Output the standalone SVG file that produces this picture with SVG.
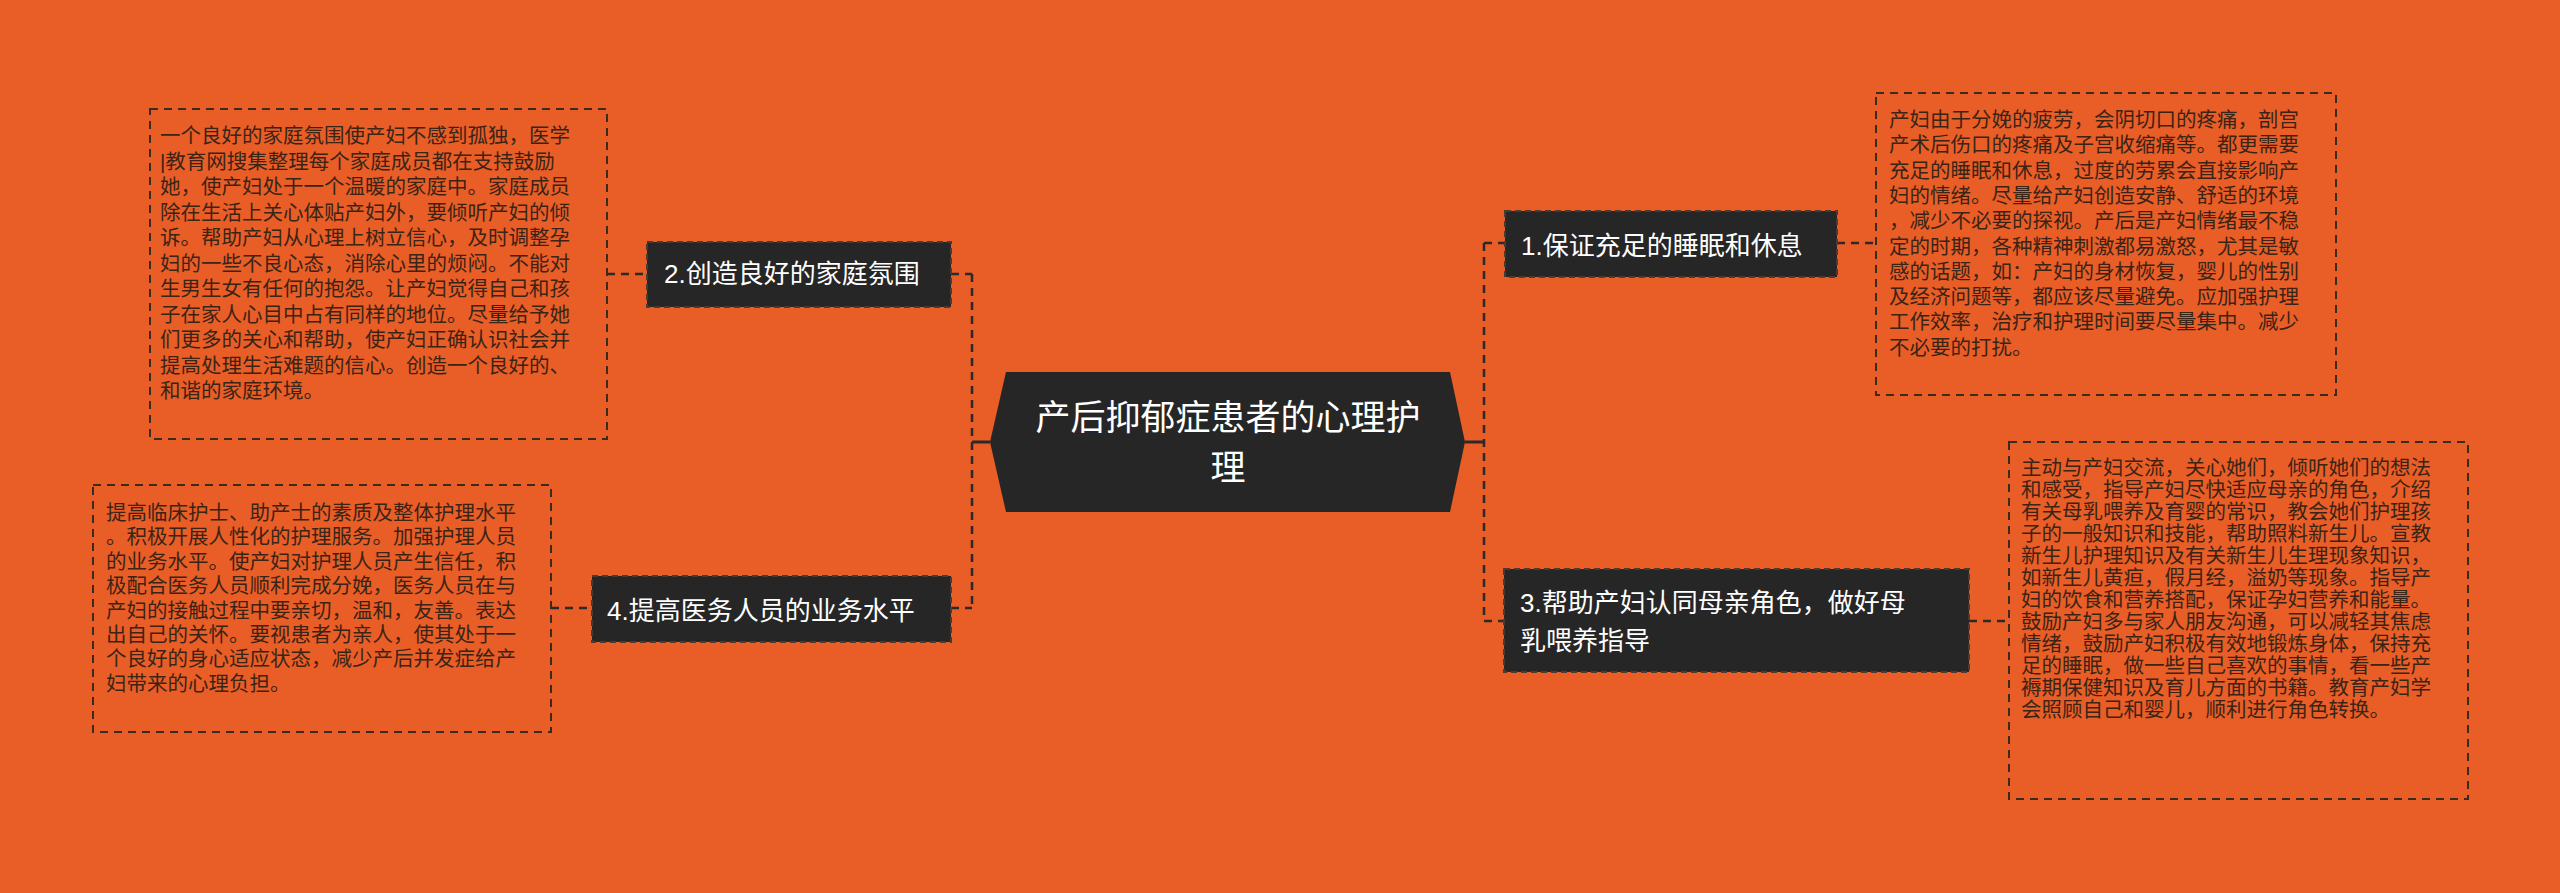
<svg xmlns="http://www.w3.org/2000/svg" width="2560" height="893" viewBox="0 0 2560 893">
<style>
.bg{fill:#E95D27}
.node{fill:#262626;stroke:#4a3a30;stroke-width:2;stroke-dasharray:6 4}
.det{fill:none;stroke:#3a2a22;stroke-width:2;stroke-dasharray:8 6}
.con{fill:none;stroke:#2a2a2a;stroke-width:2.5;stroke-dasharray:8 6}
.solid{fill:none;stroke:#2a2a2a;stroke-width:3}
.nt{font-family:"Liberation Sans","Noto Sans CJK SC",sans-serif;font-size:26px;fill:#ffffff}
.ct{font-family:"Liberation Sans","Noto Sans CJK SC",sans-serif;font-size:35px;fill:#ffffff;text-anchor:middle}
.dt{font-family:"Liberation Sans","Noto Sans CJK SC",sans-serif;font-size:20.5px;fill:#3b2416}
.dt3{font-family:"Liberation Sans","Noto Sans CJK SC",sans-serif;font-size:20.5px;fill:#3b2416}
</style>
<rect class="bg" x="0" y="0" width="2560" height="893"/>
<g id="connectors">
<path class="solid" d="M990 442H972M1465 442H1484"/>
<path class="con" d="M972 274V608M951 274H972M951 608H972"/>
<path class="con" d="M1484 243V621M1484 243H1505M1484 621H1504"/>
<path class="con" d="M607 274H647M551 608H592M1837 243H1876M1969 621H2009"/>
</g>
<g id="center">
<polygon points="990,442 1006,372 1450,372 1465,442 1450,512 1006,512" fill="#262626"/>
<text class="ct" x="1228" y="430">产后抑郁症患者的心理护</text>
<text class="ct" x="1228" y="480">理</text>
</g>
<g id="node2">
<rect class="node" x="647" y="242" width="304" height="65"/>
<text class="nt" x="664" y="283">2.创造良好的家庭氛围</text>
</g>
<g id="detail2">
<rect class="det" x="150" y="109" width="457" height="330"/>
<text class="dt" x="160">
<tspan x="160" y="143">一个良好的家庭氛围使产妇不感到孤独，医学</tspan>
<tspan x="160" y="168.5">|教育网搜集整理每个家庭成员都在支持鼓励</tspan>
<tspan x="160" y="194">她，使产妇处于一个温暖的家庭中。家庭成员</tspan>
<tspan x="160" y="219.5">除在生活上关心体贴产妇外，要倾听产妇的倾</tspan>
<tspan x="160" y="245">诉。帮助产妇从心理上树立信心，及时调整孕</tspan>
<tspan x="160" y="270.5">妇的一些不良心态，消除心里的烦闷。不能对</tspan>
<tspan x="160" y="296">生男生女有任何的抱怨。让产妇觉得自己和孩</tspan>
<tspan x="160" y="321.5">子在家人心目中占有同样的地位。尽量给予她</tspan>
<tspan x="160" y="347">们更多的关心和帮助，使产妇正确认识社会并</tspan>
<tspan x="160" y="372.5">提高处理生活难题的信心。创造一个良好的、</tspan>
<tspan x="160" y="398">和谐的家庭环境。</tspan>
</text>
</g>
<g id="node4">
<rect class="node" x="592" y="576" width="359" height="66"/>
<text class="nt" x="607" y="620">4.提高医务人员的业务水平</text>
</g>
<g id="detail4">
<rect class="det" x="93" y="485" width="458" height="247"/>
<text class="dt">
<tspan x="106" y="520">提高临床护士、助产士的素质及整体护理水平</tspan>
<tspan x="106" y="544.4">。积极开展人性化的护理服务。加强护理人员</tspan>
<tspan x="106" y="568.8">的业务水平。使产妇对护理人员产生信任，积</tspan>
<tspan x="106" y="593.2">极配合医务人员顺利完成分娩，医务人员在与</tspan>
<tspan x="106" y="617.6">产妇的接触过程中要亲切，温和，友善。表达</tspan>
<tspan x="106" y="642">出自己的关怀。要视患者为亲人，使其处于一</tspan>
<tspan x="106" y="666.4">个良好的身心适应状态，减少产后并发症给产</tspan>
<tspan x="106" y="690.8">妇带来的心理负担。</tspan>
</text>
</g>
<g id="node1">
<rect class="node" x="1505" y="211" width="332" height="66"/>
<text class="nt" x="1521" y="255">1.保证充足的睡眠和休息</text>
</g>
<g id="detail1">
<rect class="det" x="1876" y="93" width="460" height="302"/>
<text class="dt">
<tspan x="1889" y="127">产妇由于分娩的疲劳，会阴切口的疼痛，剖宫</tspan>
<tspan x="1889" y="152.3">产术后伤口的疼痛及子宫收缩痛等。都更需要</tspan>
<tspan x="1889" y="177.6">充足的睡眠和休息，过度的劳累会直接影响产</tspan>
<tspan x="1889" y="202.9">妇的情绪。尽量给产妇创造安静、舒适的环境</tspan>
<tspan x="1889" y="228.2">，减少不必要的探视。产后是产妇情绪最不稳</tspan>
<tspan x="1889" y="253.5">定的时期，各种精神刺激都易激怒，尤其是敏</tspan>
<tspan x="1889" y="278.8">感的话题，如：产妇的身材恢复，婴儿的性别</tspan>
<tspan x="1889" y="304.1">及经济问题等，都应该尽量避免。应加强护理</tspan>
<tspan x="1889" y="329.4">工作效率，治疗和护理时间要尽量集中。减少</tspan>
<tspan x="1889" y="354.7">不必要的打扰。</tspan>
</text>
</g>
<g id="node3">
<rect class="node" x="1504" y="569" width="465" height="103"/>
<text class="nt"><tspan x="1520" y="612">3.帮助产妇认同母亲角色，做好母</tspan><tspan x="1520" y="650">乳喂养指导</tspan></text>
</g>
<g id="detail3">
<rect class="det" x="2009" y="442" width="459" height="357"/>
<text class="dt3">
<tspan x="2021" y="475">主动与产妇交流，关心她们，倾听她们的想法</tspan>
<tspan x="2021" y="497">和感受，指导产妇尽快适应母亲的角色，介绍</tspan>
<tspan x="2021" y="519">有关母乳喂养及育婴的常识，教会她们护理孩</tspan>
<tspan x="2021" y="541">子的一般知识和技能，帮助照料新生儿。宣教</tspan>
<tspan x="2021" y="563">新生儿护理知识及有关新生儿生理现象知识，</tspan>
<tspan x="2021" y="585">如新生儿黄疸，假月经，溢奶等现象。指导产</tspan>
<tspan x="2021" y="607">妇的饮食和营养搭配，保证孕妇营养和能量。</tspan>
<tspan x="2021" y="629">鼓励产妇多与家人朋友沟通，可以减轻其焦虑</tspan>
<tspan x="2021" y="651">情绪，鼓励产妇积极有效地锻炼身体，保持充</tspan>
<tspan x="2021" y="673">足的睡眠，做一些自己喜欢的事情，看一些产</tspan>
<tspan x="2021" y="695">褥期保健知识及育儿方面的书籍。教育产妇学</tspan>
<tspan x="2021" y="717">会照顾自己和婴儿，顺利进行角色转换。</tspan>
</text>
</g>
</svg>
